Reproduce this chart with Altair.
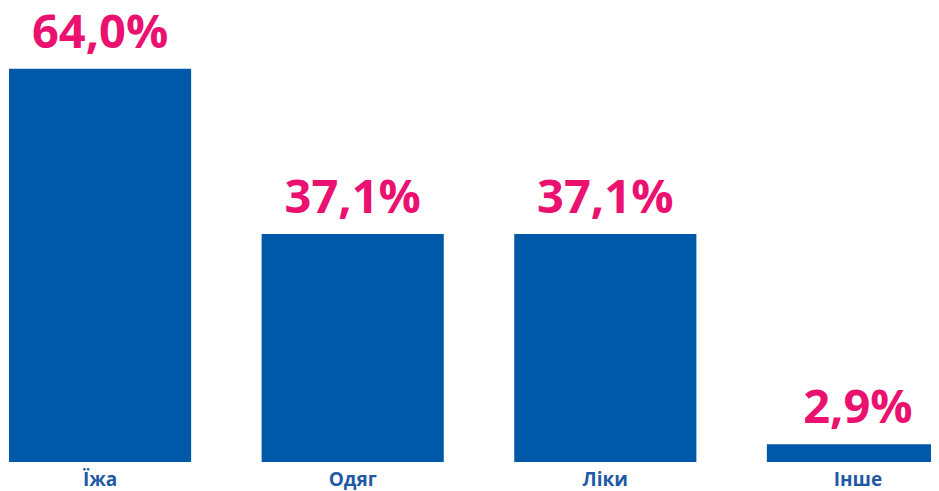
import altair as alt
import pandas as pd

categories = ["Їжа", "Одяг", "Ліки", "Інше"]
values = [64.0, 37.1, 37.1, 2.9]
labels = ["64,0%", "37,1%", "37,1%", "2,9%"]

df = pd.DataFrame({"cat": categories, "val": values, "lab": labels})

x = alt.X("cat:N", sort=categories,
          scale=alt.Scale(paddingInner=0.279, paddingOuter=0, range=[1, 941]),
          axis=alt.Axis(title=None, labelAngle=0, domain=False, ticks=False,
                        labelFont="Open Sans", labelFontWeight="bold",
                        labelFontSize=19, labelColor="#1F5AA6", labelPadding=8))
y = alt.Y("val:Q", scale=alt.Scale(domain=[0, 73.9], nice=False), axis=None)

bars = alt.Chart(df).mark_bar(color="#0058A8").encode(x=x, y=y)
text = alt.Chart(df).mark_text(baseline="alphabetic", dy=-21, font="Open Sans",
                               fontWeight="bold", fontSize=47,
                               color="#EB1170").encode(x=x, y=y, text="lab:N")

chart = (bars + text).properties(
    width=923, height=454,
    autosize=alt.AutoSizeParams(type="none"),
    padding={"left": 0, "top": 0, "right": 0, "bottom": 29},
).configure_view(stroke=None)

chart.save("out.html", embed_options={"renderer": "svg", "actions": False})
